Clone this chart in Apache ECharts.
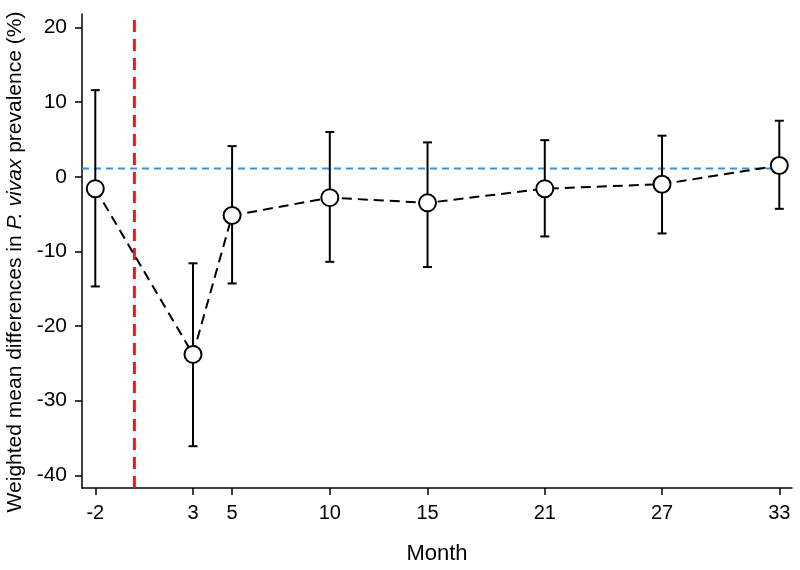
<!DOCTYPE html>
<html>
<head>
<meta charset="utf-8">
<script src="https://cdn.jsdelivr.net/npm/echarts@6/dist/echarts.min.js"></script>
<style>html,body{margin:0;padding:0;background:#fff}#c{width:800px;height:570px}</style>
</head>
<body>
<div id="c"></div>
<script>
// Data
const months = [-2, 3, 5, 10, 15, 21, 27, 33];
const meanDiff = [-1.6, -23.8, -5.2, -2.8, -3.5, -1.6, -1.0, 1.5];
const lowerCI = [-14.7, -36.1, -14.3, -11.4, -12.1, -8.0, -7.6, -4.3];
const upperCI = [11.6, -11.6, 4.1, 6.0, 4.6, 4.9, 5.5, 7.5];
const xTicks = [-2, 3, 5, 10, 15, 21, 27, 33];
const yTicks = [-40, -30, -20, -10, 0, 10, 20];
const referenceLevel = 1.1;
const interventionMonth = 0;

const X_MIN = -2.68, X_MAX = 33.65, Y_MIN = -41.7, Y_MAX = 21.8;
const FONT = 'Liberation Sans, Arial, sans-serif';

const chart = echarts.init(document.getElementById('c'));
const points = months.map((m, i) => [m, meanDiff[i]]);
const bars = months.map((m, i) => [m, lowerCI[i], upperCI[i]]);

chart.setOption({
  animation: false,
  grid: { left: 82, right: 8, top: 14, bottom: 82, containLabel: false, outerBoundsMode: 'none' },
  xAxis: {
    type: 'value', min: X_MIN, max: X_MAX,
    name: 'Month', nameLocation: 'middle', nameGap: 55,
    nameTextStyle: { fontSize: 22, color: '#000', fontFamily: FONT },
    axisLine: { show: true, onZero: false, lineStyle: { color: '#000', width: 1.5 } },
    axisTick: { show: true, customValues: xTicks, length: 7, lineStyle: { color: '#000', width: 1.5 } },
    axisLabel: { customValues: xTicks, margin: 15, fontSize: 20, color: '#000', fontFamily: FONT },
    splitLine: { show: false }
  },
  yAxis: {
    type: 'value', min: Y_MIN, max: Y_MAX,
    name: '{n|Weighted mean differences in }{i|P. vivax}{n| prevalence (%)}',
    nameLocation: 'middle', nameGap: 51, nameRotate: 90,
    nameTextStyle: {
      fontSize: 21, color: '#000', fontFamily: FONT,
      padding: [0, 22, 0, 0],
      rich: {
        n: { fontSize: 21, color: '#000', fontFamily: FONT },
        i: { fontSize: 21, color: '#000', fontFamily: FONT, fontStyle: 'italic' }
      }
    },
    axisLine: { show: true, onZero: false, lineStyle: { color: '#000', width: 1.5 } },
    axisTick: { show: true, customValues: yTicks, length: 7, lineStyle: { color: '#000', width: 1.5 } },
    axisLabel: { customValues: yTicks, margin: 15, fontSize: 21, color: '#000', fontFamily: FONT },
    splitLine: { show: false }
  },
  series: [
    {
      type: 'line', silent: true, z: 1,
      data: [[X_MIN, referenceLevel], [months[months.length - 1], referenceLevel]],
      symbol: 'none',
      lineStyle: { color: '#3a8fdc', width: 2, type: [7, 5] }
    },
    {
      type: 'line', silent: true, z: 1,
      data: [[interventionMonth, Y_MIN], [interventionMonth, Y_MAX]],
      symbol: 'none',
      lineStyle: { color: '#ff1010', width: 3, type: [12, 7] }
    },
    {
      type: 'custom', z: 2,
      data: bars,
      renderItem: function (params, api) {
        const x = api.value(0);
        const lo = api.coord([x, api.value(1)]);
        const hi = api.coord([x, api.value(2)]);
        const w = 4.5;
        const st = { stroke: '#000', lineWidth: 2 };
        return {
          type: 'group',
          children: [
            { type: 'line', shape: { x1: lo[0], y1: lo[1], x2: hi[0], y2: hi[1] }, style: st },
            { type: 'line', shape: { x1: lo[0] - w, y1: lo[1], x2: lo[0] + w, y2: lo[1] }, style: st },
            { type: 'line', shape: { x1: hi[0] - w, y1: hi[1], x2: hi[0] + w, y2: hi[1] }, style: st }
          ]
        };
      }
    },
    {
      type: 'line', z: 3,
      data: points,
      symbol: 'circle', symbolSize: 17,
      itemStyle: { color: '#fff', borderColor: '#000', borderWidth: 2 },
      lineStyle: { color: '#000', width: 2, type: [10, 6] }
    }
  ]
});
</script>
</body>
</html>
